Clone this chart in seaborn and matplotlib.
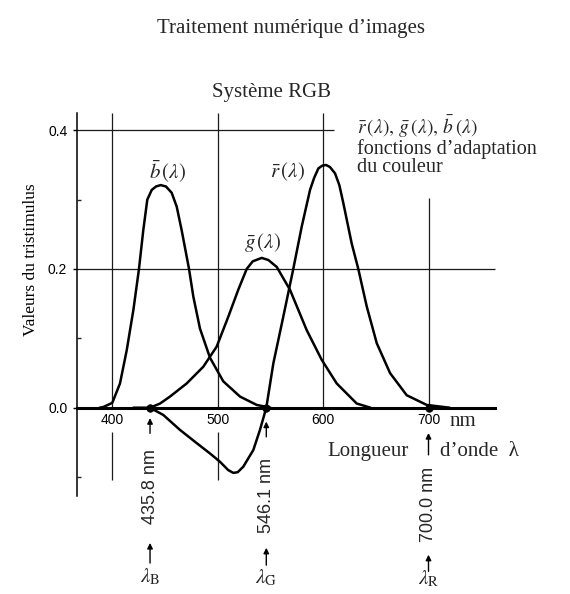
import numpy as np
import pandas as pd
import seaborn as sns
import matplotlib
matplotlib.use("Agg")
import matplotlib.pyplot as plt

# colour matching functions (nm, value)
b_wl = [388, 391.5, 400, 407.3, 413.7, 420, 425.3, 429.4, 433.2, 437.4, 441.5, 445.9, 450.9,
        456.3, 461.1, 465.8, 472.8, 476.9, 483.2, 492.7, 505.3, 521.2, 537, 550]
b_val = [0.0, 0.001, 0.007, 0.035, 0.083, 0.141, 0.2, 0.256, 0.300, 0.314, 0.319, 0.321, 0.319,
         0.310, 0.290, 0.256, 0.2, 0.160, 0.114, 0.072, 0.038, 0.016, 0.004, 0.0]

g_wl = [420, 435.8, 445.3, 454.7, 470.6, 486.3, 499, 510, 519.5, 527.5, 533.2, 541.7, 548,
        556, 568.6, 576.5, 584.4, 598.7, 612.9, 631.9, 645]
g_val = [0.0, 0.0, 0.006, 0.016, 0.035, 0.059, 0.088, 0.131, 0.170, 0.2, 0.211, 0.216, 0.213,
         0.203, 0.170, 0.141, 0.112, 0.069, 0.035, 0.006, 0.0]

r_wl = [435.8, 448.4, 464.2, 480, 492.7, 502.2, 510, 514.8, 519, 524.3, 533.8, 540.1, 546.1,
        552.8, 562.2, 571.7, 579.7, 587.6, 591.4, 595.5, 599.2, 602.8, 606.5, 611.3, 615.4,
        619.2, 627.1, 633.4, 641.4, 650.9, 663.5, 679.3, 698.3, 720]
r_val = [0.0, -0.0105, -0.032, -0.051, -0.066, -0.078, -0.090, -0.094, -0.093, -0.085, -0.061,
         -0.032, 0.0, 0.064, 0.131, 0.2, 0.261, 0.314, 0.331, 0.345, 0.349, 0.350, 0.347, 0.338,
         0.321, 0.295, 0.237, 0.2, 0.146, 0.093, 0.050, 0.018, 0.004, 0.0]

# primaries
primary_wl = [435.8, 546.1, 700.0]
primary_txt = ["435.8 nm", "546.1 nm", "700.0 nm"]
primary_sym = [r"$\lambda_\mathrm{B}$", r"$\lambda_\mathrm{G}$", r"$\lambda_\mathrm{R}$"]

x_ticks = [400, 500, 600, 700]
y_major = [0.0, 0.2, 0.4]
y_minor = [-0.1, 0.1, 0.3]

sns.set_theme(style="white")
plt.rcParams["font.family"] = ["Liberation Serif", "DejaVu Serif"]
plt.rcParams["mathtext.fontset"] = "stix"

df = pd.concat([
    pd.DataFrame({"wl": b_wl, "val": b_val, "fn": "b"}),
    pd.DataFrame({"wl": g_wl, "val": g_val, "fn": "g"}),
    pd.DataFrame({"wl": r_wl, "val": r_val, "fn": "r"}),
])

fig = plt.figure(figsize=(5.7, 5.94), dpi=100)
ax = fig.add_axes([0, 0, 1, 1])

# pixel -> data mapping of the scan
ax.set_xlim(400 - 112.3 / 1.054, 400 + (570 - 112.3) / 1.054)
ax.set_ylim((407.7 - 594) / 693.5, 407.7 / 693.5)

# grid lines of the drawing
ax.hlines(0.4, 366.5, 610, color="k", lw=0.9)
ax.hlines(0.2, 366.5, 763, color="k", lw=0.9)
ax.vlines([400, 500, 600], 0, 0.425, color="k", lw=0.9)
ax.vlines(700, 0, 0.303, color="k", lw=0.9)
ax.vlines([400, 500], -0.104, -0.035, color="k", lw=0.9)

sns.lineplot(data=df, x="wl", y="val", units="fn", estimator=None, sort=False,
             color="black", lw=1.8, ax=ax, solid_joinstyle="round", solid_capstyle="round")
sns.scatterplot(x=primary_wl, y=[0, 0, 0], color="black", s=30, edgecolor="black", ax=ax, zorder=5)

for sp in ["top", "right"]:
    ax.spines[sp].set_visible(False)
ax.spines["left"].set_position(("data", 366.5))
ax.spines["left"].set_bounds(-0.128, 0.425)
ax.spines["left"].set_color("black")
ax.spines["left"].set_linewidth(1.1)
ax.spines["bottom"].set_position(("data", 0))
ax.spines["bottom"].set_bounds(366.5, 763)
ax.spines["bottom"].set_color("black")
ax.spines["bottom"].set_linewidth(2.2)

ax.set_yticks(y_major, [f"{v:.1f}" for v in y_major])
ax.set_yticks(y_minor, minor=True)
ax.tick_params(axis="y", which="major", direction="out", length=3, width=1, pad=4,
               labelsize=10, colors="black", labelfontfamily="Liberation Sans", left=True)
ax.tick_params(axis="y", which="minor", direction="in", length=3, width=1, left=True)
ax.set_xticks(x_ticks, [str(t) for t in x_ticks])
ax.tick_params(axis="x", length=0, pad=3.5, labelsize=10, colors="black",
               labelfontfamily="Liberation Sans")

ax.set_xlabel("")
ax.set_ylabel("Valeurs du tristimulus", fontsize=12.5, color="black")
ax.yaxis.set_label_coords(39 / 570, 1 - 260 / 594)

# curve names
ax.text(452.4, 0.340, r"$\bar{b}\,(\lambda)$", fontsize=15, ha="center", va="center")
ax.text(542.5, 0.2375, r"$\bar{g}\,(\lambda)$", fontsize=15, ha="center", va="center")
ax.text(566.7, 0.340, r"$\bar{r}\,(\lambda)$", fontsize=15, ha="center", va="center")
ax.text(632.2, 0.4055, r"$\bar{r}\,(\lambda),\,\bar{g}\,(\lambda),\,\bar{b}\,(\lambda)$",
        fontsize=14, ha="left", va="center")
ax.text(632.2, 0.3725, "fonctions d\u2019adaptation", fontsize=14.5, ha="left", va="center")
ax.text(632.2, 0.3465, "du couleur", fontsize=14.5, ha="left", va="center")

# axis words
ax.text(732.7, -0.020, "nm", fontsize=15, ha="center", va="center")
ax.text(643, -0.0634, "Longueur", fontsize=15, ha="center", va="center")
ax.text(710.9, -0.0634, "d\u2019onde  \u03bb", fontsize=15, ha="left", va="center")

# primaries: arrows, rotated wavelength, symbol
arrow_top = [(-0.015, -0.037), (-0.020, -0.042), (-0.0365, -0.068)]
txt_y = [-0.113, -0.127, -0.140]
arrow_bot = [(-0.195, -0.224), (-0.202, -0.227), (-0.212, -0.236)]
sym_y = [-0.2445, -0.2455, -0.2475]
for i, wl in enumerate(primary_wl):
    ap = dict(arrowstyle="-|>", color="black", lw=1.0, mutation_scale=8, shrinkA=0, shrinkB=0)
    ax.annotate("", xy=(wl, arrow_top[i][0]), xytext=(wl, arrow_top[i][1]), arrowprops=ap)
    ax.annotate("", xy=(wl, arrow_bot[i][0]), xytext=(wl, arrow_bot[i][1]), arrowprops=ap)
    ax.text(wl, txt_y[i], primary_txt[i], rotation=90, fontsize=13, ha="center", va="center",
            family="Liberation Sans")
    ax.text(wl, sym_y[i], primary_sym[i], fontsize=15, ha="center", va="center")

fig.text(291 / 570, 1 - 28 / 594, "Traitement num\u00e9rique d\u2019images", fontsize=15,
         ha="center", va="center")
fig.text(271 / 570, 1 - 92 / 594, "Syst\u00e8me RGB", fontsize=15, ha="center", va="center")

fig.savefig("out.png", dpi=100)
